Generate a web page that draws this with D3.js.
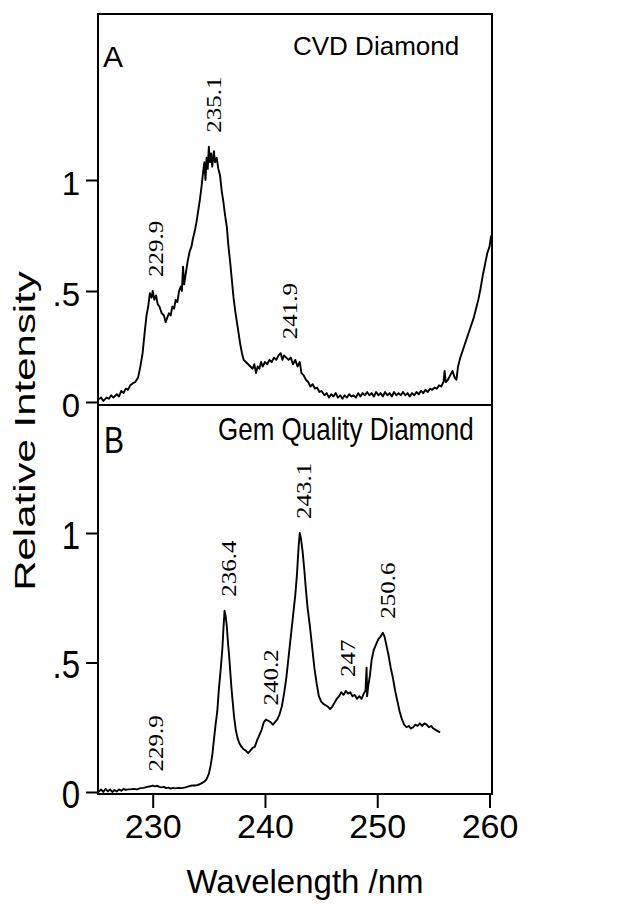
<!DOCTYPE html>
<html>
<head>
<meta charset="utf-8">
<script src="https://cdn.jsdelivr.net/npm/d3@7"></script>
<style>
  body { margin: 0; background: #fff; }
  svg { display: block; }
</style>
</head>
<body>
<div id="chart"></div>
<script>
// spectrum A: CVD diamond, [wavelength nm, relative intensity]
const cvdSpectrum = [
  [225.13, 0.01], [225.4, 0.02], [225.6, 0.005], [225.9, 0.02], [226.1, 0.015], [226.3, 0.03],
  [226.5, 0.02], [226.8, 0.035], [227.0, 0.025], [227.2, 0.05], [227.4, 0.04], [227.6, 0.06],
  [227.8, 0.055], [228.0, 0.075], [228.25, 0.085], [228.45, 0.09], [228.7, 0.11], [228.9, 0.16],
  [229.1, 0.22], [229.3, 0.32], [229.45, 0.39], [229.6, 0.43], [229.75, 0.49], [229.9, 0.47],
  [230.0, 0.5], [230.15, 0.46], [230.3, 0.48], [230.45, 0.44], [230.6, 0.43], [230.8, 0.4],
  [231.0, 0.39], [231.15, 0.36], [231.3, 0.38], [231.45, 0.4], [231.6, 0.39], [231.75, 0.43],
  [231.9, 0.42], [232.05, 0.46], [232.2, 0.45], [232.35, 0.5], [232.5, 0.52], [232.6, 0.5],
  [232.7, 0.61], [232.8, 0.53], [232.95, 0.58], [233.1, 0.63], [233.3, 0.68], [233.45, 0.7],
  [233.6, 0.74], [233.75, 0.77], [233.9, 0.81], [234.05, 0.86], [234.2, 0.91], [234.35, 0.97],
  [234.5, 1.04], [234.6, 1.08], [234.7, 1.0], [234.8, 1.1], [234.9, 1.05], [235.0, 1.15],
  [235.1, 1.08], [235.2, 1.12], [235.3, 1.06], [235.45, 1.13], [235.55, 1.08], [235.7, 1.1],
  [235.85, 1.05], [236.0, 1.02], [236.15, 0.95], [236.3, 0.9], [236.45, 0.84], [236.6, 0.79],
  [236.75, 0.7], [236.9, 0.63], [237.05, 0.55], [237.2, 0.47], [237.35, 0.41], [237.5, 0.36],
  [237.65, 0.31], [237.8, 0.26], [237.95, 0.22], [238.1, 0.19], [238.3, 0.18], [238.5, 0.17],
  [238.7, 0.16], [238.9, 0.15], [239.05, 0.17], [239.2, 0.13], [239.35, 0.16], [239.5, 0.15],
  [239.65, 0.18], [239.8, 0.16], [240.0, 0.18], [240.2, 0.17], [240.4, 0.19], [240.6, 0.18],
  [240.8, 0.2], [241.0, 0.19], [241.2, 0.21], [241.4, 0.22], [241.55, 0.19], [241.7, 0.21],
  [241.9, 0.2], [242.1, 0.19], [242.3, 0.2], [242.5, 0.17], [242.7, 0.19], [242.9, 0.16],
  [243.1, 0.18], [243.25, 0.13], [243.45, 0.12], [243.65, 0.1], [243.85, 0.09], [244.05, 0.07],
  [244.25, 0.08], [244.45, 0.06], [244.65, 0.065], [244.85, 0.045], [245.05, 0.05], [245.3, 0.03],
  [245.5, 0.04], [245.7, 0.02], [245.9, 0.035], [246.1, 0.025], [246.3, 0.04], [246.5, 0.02],
  [246.7, 0.03], [246.9, 0.015], [247.1, 0.03], [247.3, 0.02], [247.5, 0.035], [247.7, 0.025],
  [247.9, 0.03], [248.1, 0.02], [248.3, 0.04], [248.5, 0.025], [248.7, 0.04], [248.9, 0.03],
  [249.1, 0.045], [249.3, 0.03], [249.5, 0.04], [249.7, 0.025], [249.9, 0.045], [250.1, 0.03],
  [250.3, 0.04], [250.5, 0.025], [250.7, 0.045], [250.9, 0.03], [251.1, 0.04], [251.3, 0.025],
  [251.5, 0.045], [251.7, 0.03], [251.9, 0.04], [252.1, 0.03], [252.3, 0.045], [252.5, 0.03],
  [252.7, 0.04], [252.9, 0.025], [253.1, 0.04], [253.3, 0.03], [253.5, 0.045], [253.7, 0.035],
  [253.9, 0.05], [254.1, 0.04], [254.3, 0.055], [254.5, 0.045], [254.7, 0.06], [254.9, 0.055],
  [255.1, 0.065], [255.3, 0.06], [255.5, 0.075], [255.7, 0.07], [255.9, 0.09], [256.0, 0.14],
  [256.1, 0.09], [256.3, 0.1], [256.5, 0.12], [256.7, 0.14], [256.9, 0.11], [257.05, 0.1],
  [257.2, 0.16], [257.4, 0.2], [257.6, 0.23], [257.8, 0.26], [258.0, 0.29], [258.2, 0.32],
  [258.4, 0.35], [258.6, 0.38], [258.8, 0.42], [259.0, 0.46], [259.2, 0.51], [259.4, 0.57],
  [259.6, 0.62], [259.8, 0.67], [260.0, 0.7], [260.15, 0.75],
];

// spectrum B: gem quality diamond
const gemSpectrum = [
  [225.2, 0.0], [225.4, 0.01], [225.6, 0.0], [225.8, 0.012], [226.0, 0.003], [226.2, 0.01],
  [226.4, 0.0], [226.6, 0.008], [226.8, 0.002], [227.0, 0.01], [227.2, 0.005], [227.4, 0.012],
  [227.6, 0.008], [227.8, 0.01], [228.0, 0.01], [228.3, 0.012], [228.6, 0.01], [228.9, 0.015],
  [229.2, 0.016], [229.5, 0.02], [229.8, 0.022], [230.0, 0.025], [230.2, 0.022], [230.4, 0.024],
  [230.6, 0.02], [230.8, 0.018], [231.0, 0.02], [231.2, 0.015], [231.4, 0.017], [231.6, 0.013],
  [231.8, 0.016], [232.0, 0.014], [232.3, 0.016], [232.6, 0.015], [232.9, 0.018], [233.2, 0.022],
  [233.5, 0.025], [233.8, 0.025], [234.0, 0.027], [234.2, 0.03], [234.4, 0.035], [234.6, 0.04],
  [234.8, 0.05], [235.0, 0.07], [235.15, 0.1], [235.3, 0.14], [235.45, 0.2], [235.6, 0.26],
  [235.75, 0.31], [235.9, 0.4], [236.05, 0.47], [236.2, 0.55], [236.3, 0.63], [236.4, 0.7],
  [236.5, 0.68], [236.6, 0.64], [236.7, 0.58], [236.8, 0.53], [236.9, 0.47], [237.0, 0.41],
  [237.1, 0.36], [237.25, 0.29], [237.4, 0.24], [237.55, 0.21], [237.7, 0.19], [237.9, 0.175],
  [238.1, 0.165], [238.3, 0.16], [238.5, 0.15], [238.7, 0.16], [238.9, 0.17], [239.1, 0.175],
  [239.3, 0.2], [239.5, 0.22], [239.7, 0.24], [239.9, 0.27], [240.1, 0.28], [240.3, 0.275],
  [240.5, 0.27], [240.7, 0.26], [240.9, 0.27], [241.1, 0.28], [241.3, 0.3], [241.5, 0.33],
  [241.7, 0.38], [241.9, 0.44], [242.1, 0.52], [242.3, 0.6], [242.5, 0.68], [242.7, 0.76],
  [242.85, 0.84], [243.0, 0.95], [243.1, 1.0], [243.2, 0.98], [243.35, 0.93], [243.5, 0.86],
  [243.65, 0.78], [243.8, 0.71], [244.0, 0.64], [244.2, 0.56], [244.4, 0.48], [244.6, 0.42],
  [244.8, 0.37], [245.0, 0.35], [245.2, 0.34], [245.4, 0.335], [245.6, 0.33], [245.8, 0.32],
  [246.0, 0.33], [246.2, 0.345], [246.4, 0.36], [246.6, 0.37], [246.8, 0.385], [247.0, 0.375],
  [247.2, 0.39], [247.4, 0.38], [247.6, 0.385], [247.8, 0.37], [248.0, 0.375], [248.2, 0.36],
  [248.4, 0.37], [248.6, 0.36], [248.8, 0.38], [248.95, 0.39], [249.05, 0.48], [249.1, 0.37],
  [249.2, 0.41], [249.35, 0.45], [249.5, 0.51], [249.7, 0.55], [249.9, 0.57], [250.1, 0.59],
  [250.3, 0.6], [250.5, 0.615], [250.65, 0.6], [250.8, 0.57], [251.0, 0.53], [251.2, 0.48],
  [251.4, 0.44], [251.6, 0.39], [251.8, 0.35], [252.0, 0.31], [252.2, 0.28], [252.4, 0.26],
  [252.6, 0.25], [252.8, 0.255], [253.0, 0.245], [253.2, 0.25], [253.4, 0.26], [253.6, 0.255],
  [253.8, 0.265], [254.0, 0.255], [254.2, 0.265], [254.4, 0.26], [254.6, 0.25], [254.8, 0.255],
  [255.0, 0.245], [255.2, 0.24], [255.4, 0.235], [255.6, 0.23],
];

const cvdPeaks = ['229.9', '235.1', '241.9'];
const gemPeaks = ['229.9', '236.4', '240.2', '243.1', '247', '250.6'];
const xTicks = [230, 240, 250, 260];
const yTicks = [0, 0.5, 1];

const width = 635;
const height = 907;
const frame = { left: 98, right: 492, top: 14, mid: 405, bottom: 794 };

const sans = "'Liberation Sans', Arial, sans-serif";
const serif = "'Liberation Serif', 'Times New Roman', serif";

const svg = d3.select('#chart').append('svg')
  .attr('width', width)
  .attr('height', height);

// scales (panel B is stretched taller than panel A)
const x = d3.scaleLinear().domain([230, 260]).range([152.7, 489.5]);
const yA = d3.scaleLinear().domain([0, 1]).range([402, 180]);
const yB = d3.scaleLinear().domain([0, 1]).range([792, 533]);

const fmt = (d) => d3.format('~g')(d).replace(/^0\./, '.');

/**
 * Axes
 */
const axisA = svg.append('g')
  .attr('transform', `translate(${frame.left},0)`)
  .call(d3.axisLeft(yA).tickValues(yTicks).tickSize(12).tickPadding(6).tickFormat(fmt));

const axisB = svg.append('g')
  .attr('transform', `translate(${frame.left},0)`)
  .call(d3.axisLeft(yB).tickValues(yTicks).tickSize(12).tickPadding(6).tickFormat(fmt));

const axisX = svg.append('g')
  .attr('transform', `translate(0,${frame.bottom})`)
  .call(d3.axisBottom(x).tickValues(xTicks).tickSize(14).tickPadding(6));

[axisA, axisB, axisX].forEach((g) => {
  g.select('.domain').remove();
  g.selectAll('line').attr('stroke', '#000').attr('stroke-width', 2);
  g.selectAll('text')
    .attr('fill', '#000')
    .style('font-family', sans)
    .style('font-size', '33px');
});
axisA.selectAll('text').attr('dy', '0.45em');
axisB.selectAll('text').attr('dy', '0.4em').attr('transform', 'scale(1,1.15)');
axisX.selectAll('text').style('font-size', '34px');

/**
 * Frame
 */
svg.append('rect')
  .attr('x', frame.left)
  .attr('y', frame.top)
  .attr('width', frame.right - frame.left)
  .attr('height', frame.bottom - frame.top)
  .attr('fill', 'none')
  .attr('stroke', '#000')
  .attr('stroke-width', 2);

svg.append('line')
  .attr('x1', frame.left)
  .attr('x2', frame.right)
  .attr('y1', frame.mid)
  .attr('y2', frame.mid)
  .attr('stroke', '#000')
  .attr('stroke-width', 2);

/**
 * Spectra
 */
const lineA = d3.line().x((d) => x(d[0])).y((d) => yA(d[1]));
const lineB = d3.line().x((d) => x(d[0])).y((d) => yB(d[1]));

svg.append('path')
  .attr('d', lineA(cvdSpectrum))
  .attr('fill', 'none')
  .attr('stroke', '#000')
  .attr('stroke-width', 1.9)
  .attr('stroke-linejoin', 'round');

svg.append('path')
  .attr('d', lineB(gemSpectrum))
  .attr('fill', 'none')
  .attr('stroke', '#000')
  .attr('stroke-width', 1.9)
  .attr('stroke-linejoin', 'round');

/**
 * Peak labels, rotated, sitting just above the highest point near the peak
 */
const addPeakLabels = (peaks, spectrum, y) => {
  peaks.forEach((p) => {
    const w = +p;
    const near = spectrum.filter((d) => Math.abs(d[0] - w) <= 0.5);
    const top = d3.max(near, (d) => d[1]);
    const px = x(w) + 11;
    const py = y(top) - 14;
    svg.append('text')
      .text(p)
      .attr('transform', `translate(${px},${py}) rotate(-90) scale(1.25,1)`)
      .style('font-family', serif)
      .style('font-size', '20px');
  });
};
addPeakLabels(cvdPeaks, cvdSpectrum, yA);
addPeakLabels(gemPeaks, gemSpectrum, yB);

/**
 * Panel titles and axis titles
 */
svg.append('text')
  .text('A')
  .attr('x', 103)
  .attr('y', 67)
  .style('font-family', sans)
  .style('font-size', '30px');

svg.append('text')
  .text('B')
  .attr('transform', 'translate(104,453) scale(1,1.2)')
  .style('font-family', sans)
  .style('font-size', '30px');

svg.append('text')
  .text('CVD Diamond')
  .attr('x', 293)
  .attr('y', 55)
  .style('font-family', sans)
  .style('font-size', '26px');

svg.append('text')
  .text('Gem Quality Diamond')
  .attr('transform', 'translate(218,440) scale(1,1.18)')
  .style('font-family', sans)
  .style('font-size', '26px');

svg.append('text')
  .text('Relative Intensity')
  .attr('text-anchor', 'middle')
  .attr('transform', 'translate(35,431) rotate(-90) scale(1.4,1)')
  .style('font-family', sans)
  .style('font-size', '30px');

svg.append('text')
  .text('Wavelength /nm')
  .attr('text-anchor', 'middle')
  .attr('x', 305)
  .attr('y', 893)
  .style('font-family', sans)
  .style('font-size', '33px');
</script>
</body>
</html>
